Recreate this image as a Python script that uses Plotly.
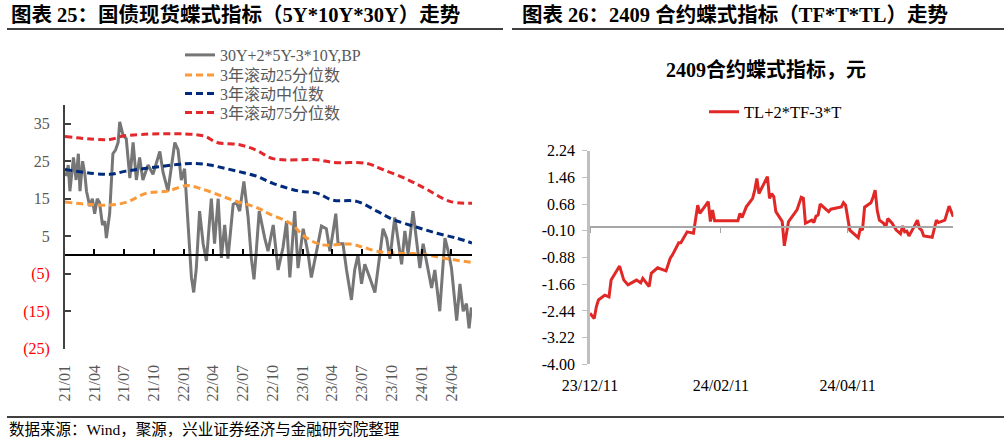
import plotly.graph_objects as go

# ---------------- Left chart data (BP) ----------------
bf_dates = [
    "2021-01-04", "2021-01-11", "2021-01-16", "2021-01-27", "2021-02-04", "2021-02-11",
    "2021-02-16", "2021-02-24", "2021-03-03", "2021-03-08", "2021-03-18", "2021-03-26",
    "2021-04-02", "2021-04-10", "2021-04-17", "2021-04-26", "2021-05-03", "2021-05-08",
    "2021-05-18", "2021-05-28", "2021-06-05", "2021-06-13", "2021-06-18", "2021-06-28",
    "2021-07-08", "2021-07-19", "2021-07-29", "2021-08-08", "2021-08-18", "2021-08-28",
    "2021-09-13", "2021-09-28", "2021-10-19", "2021-10-29", "2021-11-13", "2021-12-04",
    "2021-12-14", "2021-12-24", "2022-01-03", "2022-01-14", "2022-01-24", "2022-01-31",
    "2022-02-08", "2022-02-18", "2022-03-01", "2022-03-11", "2022-03-26", "2022-04-05",
    "2022-04-16", "2022-04-26", "2022-05-06", "2022-05-16", "2022-06-01", "2022-06-11",
    "2022-06-21", "2022-07-04", "2022-07-17", "2022-07-27", "2022-08-04", "2022-08-11",
    "2022-08-20", "2022-09-06", "2022-09-16", "2022-10-02", "2022-10-17", "2022-11-01",
    "2022-11-12", "2022-11-22", "2022-12-07", "2022-12-17", "2023-01-02", "2023-01-17",
    "2023-01-27", "2023-02-12", "2023-02-27", "2023-03-14", "2023-03-25", "2023-04-04",
    "2023-04-12", "2023-04-19", "2023-05-04", "2023-05-15", "2023-05-30", "2023-06-09",
    "2023-06-19", "2023-06-30", "2023-07-10", "2023-07-25", "2023-08-10", "2023-08-25",
    "2023-09-04", "2023-09-15", "2023-09-25", "2023-10-10", "2023-10-20", "2023-10-31",
    "2023-11-10", "2023-11-20", "2023-12-05", "2023-12-16", "2023-12-26", "2024-01-05",
    "2024-01-20", "2024-01-31", "2024-02-10", "2024-02-25", "2024-03-12", "2024-03-22",
    "2024-04-01", "2024-04-17", "2024-04-27", "2024-05-07", "2024-05-17", "2024-05-25",
    "2024-06-01",
]
bf_values = [
    21, 24, 17, 26, 20, 27,
    17, 25, 21.5, 17, 13, 15,
    11, 15, 14, 8, 9, 4.5,
    11, 27, 28, 30, 35.5, 32,
    31, 20.5, 30, 20, 26, 20,
    24, 21.5, 27.6, 22, 17, 30,
    28, 20, 23, 7, -6, -10,
    -3.5, 11.7, 3, -1.6, 15, 3,
    15, -0.8, 8, -1, 13.5, 14,
    11.7, 19.6, 10, -1, -6.5, 1,
    11.7, 4.5, 1, 8, -4, 2,
    9, -6, 11.7, -3.5, 7, 0.3,
    -6, 1, 7.7, 7, 1, 6.4,
    11, 3, 3, -4, -12, -4,
    0, -7.7, -2.5, -6, -10, 0,
    7, 4.5, -1, 10, 4.5, -2.5,
    6.4, 0.3, 11.7, 3.7, -3.5, 3,
    -3.5, -8.8, -4, -15, 4.5, 1,
    -3.5, -17.5, -7.7, -15, -13, -19.6,
    -14,
]

p25_dates = ["2021-01-01", "2021-05-18", "2021-07-09", "2021-09-09", "2021-11-09", "2022-01-10",
             "2022-02-18", "2022-04-12", "2022-05-31", "2022-08-16", "2022-09-21", "2022-11-22",
             "2023-01-13", "2023-03-03", "2023-05-25", "2023-07-04", "2023-08-16", "2023-10-16",
             "2024-01-04", "2024-03-05", "2024-06-03"]
p25_values = [14.1, 13.3, 14.1, 16.5, 17.0, 18.5,
              17.8, 16.2, 14.6, 12.5, 10.9, 8.5,
              4.5, 2.7, 2.9, 2.1, 1.0, 0.5,
              0.2, -0.8, -2.0]

p50_dates = ["2021-01-01", "2021-05-18", "2021-07-03", "2021-08-28", "2021-12-10", "2022-01-28",
             "2022-03-21", "2022-05-12", "2022-06-30", "2022-08-12", "2022-10-01", "2022-12-22",
             "2023-02-13", "2023-04-03", "2023-06-15", "2023-08-16", "2023-10-04", "2023-12-17",
             "2024-02-16", "2024-04-17", "2024-06-03"]
p50_values = [22.8, 21.5, 22.3, 23.0, 24.1, 24.4,
              24.0, 23.0, 22.0, 21.0, 19.1, 17.0,
              16.5, 14.6, 14.3, 11.7, 9.5, 7.4,
              5.8, 4.5, 3.2]

p75_dates = ["2021-01-01", "2021-05-18", "2021-07-03", "2022-02-28", "2022-04-12", "2022-06-21",
             "2022-08-12", "2022-10-01", "2023-02-13", "2023-04-03", "2023-07-16", "2023-09-03",
             "2023-11-16", "2024-01-16", "2024-03-27", "2024-06-03"]
p75_values = [31.6, 30.8, 31.8, 31.8, 30.0, 29.4,
              27.9, 25.7, 25.4, 24.7, 24.4, 22.8,
              20.2, 17.5, 14.3, 13.8]

left_xticks = ["2021-01-01", "2021-04-01", "2021-07-01", "2021-10-01", "2022-01-01", "2022-04-01",
               "2022-07-01", "2022-10-01", "2023-01-01", "2023-04-01", "2023-07-01", "2023-10-01",
               "2024-01-01", "2024-04-01"]
left_xticklabels = ["21/01", "21/04", "21/07", "21/10", "22/01", "22/04", "22/07", "22/10",
                    "23/01", "23/04", "23/07", "23/10", "24/01", "24/04"]
left_yticks = [-25, -15, -5, 5, 15, 25, 35]
left_yticklabels = ["(25)", "(15)", "(5)", "5", "15", "25", "35"]

# ---------------- Right chart data (yuan) ----------------
tl_dates = [
    "2023-12-11", "2023-12-13", "2023-12-14", "2023-12-15", "2023-12-18", "2023-12-20",
    "2023-12-21", "2023-12-25", "2023-12-27", "2023-12-29", "2024-01-02", "2024-01-04",
    "2024-01-05", "2024-01-08", "2024-01-09", "2024-01-12", "2024-01-16", "2024-01-18",
    "2024-01-19", "2024-01-22", "2024-01-23", "2024-01-26", "2024-01-29", "2024-01-31",
    "2024-02-01", "2024-02-05", "2024-02-06", "2024-02-07", "2024-02-08", "2024-02-19",
    "2024-02-20", "2024-02-21", "2024-02-23", "2024-02-26", "2024-02-27", "2024-02-28",
    "2024-02-29", "2024-03-04", "2024-03-05", "2024-03-06", "2024-03-07", "2024-03-08",
    "2024-03-11", "2024-03-12", "2024-03-14", "2024-03-18", "2024-03-20", "2024-03-21",
    "2024-03-22", "2024-03-25", "2024-03-26", "2024-03-27", "2024-03-28", "2024-03-29",
    "2024-04-01", "2024-04-02", "2024-04-03", "2024-04-08", "2024-04-09", "2024-04-10",
    "2024-04-12", "2024-04-15", "2024-04-16", "2024-04-17", "2024-04-18", "2024-04-19",
    "2024-04-22", "2024-04-23", "2024-04-24", "2024-04-25", "2024-04-26", "2024-04-28",
    "2024-04-29", "2024-04-30", "2024-05-02", "2024-05-04", "2024-05-06", "2024-05-07",
    "2024-05-08", "2024-05-09", "2024-05-10", "2024-05-12", "2024-05-14", "2024-05-15",
    "2024-05-16", "2024-05-17", "2024-05-21", "2024-05-23", "2024-05-24", "2024-05-27",
    "2024-05-29", "2024-05-31",
]
tl_values = [
    -2.51, -2.66, -2.32, -2.12, -1.98, -2.03,
    -1.54, -1.13, -1.54, -1.68, -1.54, -1.62,
    -1.49, -1.73, -1.34, -1.18, -1.27, -0.90,
    -0.81, -0.45, -0.45, -0.13, -0.17, 0.65,
    0.41, 0.75, 0.17, 0.51, 0.19, 0.19,
    0.41, 0.29, 0.60, 0.85, 1.09, 1.43,
    0.99, 1.48, 0.85, 0.99, 0.90, 0.46,
    0.17, -0.54, 0.17, 0.51, 0.88, 0.85,
    0.12, 0.21, 0.14, 0.33, 0.36, 0.68,
    0.51, 0.46, 0.53, 0.60, 0.72, 0.65,
    -0.08, -0.23, -0.30, -0.03, -0.08, 0.59,
    0.72, 0.88, 1.09, 0.49, 0.21, 0.12,
    0.00, 0.26, 0.12, -0.08, -0.19, 0.04,
    -0.13, -0.11, -0.25, -0.03, 0.21, -0.03,
    -0.08, -0.25, -0.29, 0.21, 0.14, 0.21,
    0.62, 0.31,
]
right_yticks = [-4.00, -3.22, -2.44, -1.66, -0.88, -0.10, 0.68, 1.46, 2.24]
right_xticks = ["2023-12-11", "2024-02-11", "2024-04-11"]
right_xticklabels = ["23/12/11", "24/02/11", "24/04/11"]

# ---------------- Styling / layout ----------------
W, H = 1008, 440
SERIF = "'Liberation Serif', 'Noto Sans CJK SC', serif"
GRAY_TXT = "#595959"


def px_x(x):
    return x / W


def px_y(y):
    return 1 - y / H


L_X = [px_x(65), px_x(472)]
L_Y = [px_y(348.7), px_y(105)]
R_X = [px_x(590), px_x(953.3)]
R_Y = [px_y(364.3), px_y(150.7)]
L_RANGE_Y = [-25, 40]
R_RANGE_Y = [-4.0, 2.24]
L_ZERO = L_Y[0] + (0 - L_RANGE_Y[0]) / (L_RANGE_Y[1] - L_RANGE_Y[0]) * (L_Y[1] - L_Y[0])
R_ZERO = R_Y[0] + (0 - R_RANGE_Y[0]) / (R_RANGE_Y[1] - R_RANGE_Y[0]) * (R_Y[1] - R_Y[0])
L_RANGE_X = ["2021-01-01", "2024-06-03"]
R_RANGE_X = ["2023-12-11", "2024-05-31"]

fig = go.Figure()

# invisible helper traces so the zero-line axes get their own subplots
fig.add_trace(go.Scatter(x=L_RANGE_X, y=[None, None], mode="lines", xaxis="x3", yaxis="y",
                         showlegend=False, hoverinfo="skip"))
fig.add_trace(go.Scatter(x=R_RANGE_X, y=[None, None], mode="lines", xaxis="x4", yaxis="y2",
                         showlegend=False, hoverinfo="skip"))

DASH = "7px,4px"
fig.add_trace(go.Scatter(x=bf_dates, y=bf_values, mode="lines", name="30Y+2*5Y-3*10Y,BP",
                         line=dict(color="#767676", width=3), xaxis="x", yaxis="y",
                         legend="legend"))
fig.add_trace(go.Scatter(x=p25_dates, y=p25_values, mode="lines", name="3年滚动25分位数",
                         line=dict(color="#FA9A3A", width=3, dash=DASH, shape="spline"),
                         xaxis="x", yaxis="y", legend="legend2"))
fig.add_trace(go.Scatter(x=p50_dates, y=p50_values, mode="lines", name="3年滚动中位数",
                         line=dict(color="#002A7C", width=3, dash=DASH, shape="spline"),
                         xaxis="x", yaxis="y", legend="legend3"))
fig.add_trace(go.Scatter(x=p75_dates, y=p75_values, mode="lines", name="3年滚动75分位数",
                         line=dict(color="#E3272A", width=3, dash=DASH, shape="spline"),
                         xaxis="x", yaxis="y", legend="legend4"))

fig.add_trace(go.Scatter(x=tl_dates, y=tl_values, mode="lines", name="TL+2*TF-3*T",
                         line=dict(color="#E02826", width=3), xaxis="x2", yaxis="y2",
                         legend="legend5"))

left_ytext = [
    (f'<span style="color:#FF0000">{t}</span>' if v < 0 else t)
    for v, t in zip(left_yticks, left_yticklabels)
]


def leg(xpx, ypx, size, color):
    return dict(x=px_x(xpx), y=px_y(ypx), xanchor="left", yanchor="middle",
                bgcolor="rgba(0,0,0,0)", borderwidth=0, itemwidth=30,
                font=dict(family=SERIF, size=size, color=color))


fig.update_layout(
    template="none",
    width=W, height=H,
    margin=dict(l=0, r=0, t=0, b=0, pad=0, autoexpand=False),
    paper_bgcolor="white", plot_bgcolor="rgba(0,0,0,0)",
    font=dict(family=SERIF, color="#000000"),
    xaxis=dict(domain=L_X, anchor="y", type="date", range=L_RANGE_X, automargin=False,
               tickmode="array", tickvals=left_xticks, ticktext=left_xticklabels,
               tickangle=-90, ticks="outside", ticklen=9, tickcolor="rgba(0,0,0,0)",
               showline=False, showgrid=False, zeroline=False,
               tickfont=dict(family=SERIF, size=16, color=GRAY_TXT)),
    xaxis3=dict(overlaying="x", anchor="free", position=L_ZERO, domain=L_X, type="date",
                range=L_RANGE_X, tickmode="array", tickvals=left_xticks, automargin=False,
                showticklabels=False, ticks="inside", ticklen=5, tickwidth=1.5, tickcolor="#000000",
                showline=True, linecolor="#000000", linewidth=2, showgrid=False, zeroline=False),
    yaxis=dict(domain=L_Y, anchor="x", range=L_RANGE_Y, tickmode="array", automargin=False,
               tickvals=left_yticks, ticktext=left_ytext, ticks="inside", ticklen=6,
               tickcolor="#404040", tickwidth=1.5, showline=True, linecolor="#404040",
               linewidth=2, showgrid=False, zeroline=False, ticklabelstandoff=10,
               tickfont=dict(family=SERIF, size=16, color=GRAY_TXT)),
    xaxis2=dict(domain=R_X, anchor="y2", type="date", range=R_RANGE_X, automargin=False,
                tickmode="array", tickvals=right_xticks, ticktext=right_xticklabels,
                tickangle=0, ticks="outside", ticklen=6, tickcolor="rgba(0,0,0,0)",
                showline=False, showgrid=False, zeroline=False,
                tickfont=dict(family=SERIF, size=16, color="#000000")),
    xaxis4=dict(overlaying="x2", anchor="free", position=R_ZERO, domain=R_X, type="date",
                range=R_RANGE_X, tickmode="array", tickvals=right_xticks, automargin=False,
                showticklabels=False, ticks="outside", ticklen=5, tickcolor="#A6A6A6",
                showline=True, linecolor="#A6A6A6", linewidth=1.5, showgrid=False, zeroline=False),
    yaxis2=dict(domain=R_Y, anchor="x2", range=R_RANGE_Y, tickmode="array", automargin=False,
                tickvals=right_yticks, ticktext=[f"{v:.2f}" for v in right_yticks],
                ticks="outside", ticklen=5, tickcolor="#BFBFBF", showline=True,
                linecolor="#BFBFBF", linewidth=2.5, showgrid=False, zeroline=False,
                ticklabelstandoff=4,
                tickfont=dict(family=SERIF, size=16, color="#000000")),
    legend=leg(180, 55, 16, GRAY_TXT),
    legend2=leg(180, 75, 16, GRAY_TXT),
    legend3=leg(180, 93.5, 16, GRAY_TXT),
    legend4=leg(180, 112.5, 16, GRAY_TXT),
    legend5=leg(704, 112, 16.5, "#000000"),
    showlegend=True,
)

annotations = [
    dict(text="<b>图表 25：国债现货蝶式指标（5Y*10Y*30Y）走势</b>", x=px_x(9), y=px_y(15),
         xanchor="left", yanchor="middle", font=dict(family=SERIF, size=20.5, color="#000000")),
    dict(text="<b>图表 26：2409 合约蝶式指标（TF*T*TL）走势</b>", x=px_x(520), y=px_y(15),
         xanchor="left", yanchor="middle", font=dict(family=SERIF, size=20.5, color="#000000")),
    dict(text="<b>2409合约蝶式指标，元</b>", x=px_x(766), y=px_y(70),
         xanchor="center", yanchor="middle", font=dict(family=SERIF, size=20, color="#000000")),
    dict(text="数据来源：Wind，聚源，兴业证券经济与金融研究院整理", x=px_x(7), y=px_y(429),
         xanchor="left", yanchor="middle", font=dict(family=SERIF, size=15.5, color="#000000")),
]
for a in annotations:
    a.update(xref="paper", yref="paper", showarrow=False)
fig.update_layout(annotations=annotations)

shapes = [
    dict(type="line", x0=px_x(7), x1=px_x(503), y0=px_y(29), y1=px_y(29)),
    dict(type="line", x0=px_x(512), x1=px_x(1004), y0=px_y(29), y1=px_y(29)),
    dict(type="line", x0=px_x(7), x1=px_x(1004), y0=px_y(417), y1=px_y(417)),
]
for s in shapes:
    s.update(xref="paper", yref="paper", line=dict(color="#000000", width=1.5))
fig.update_layout(shapes=shapes)

fig.write_html("out.html")
